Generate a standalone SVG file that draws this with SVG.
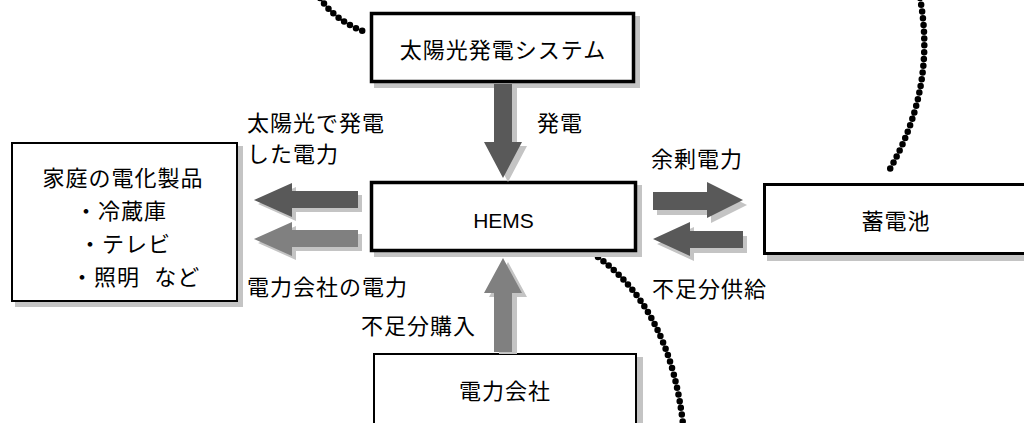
<svg xmlns="http://www.w3.org/2000/svg" width="1024" height="423" viewBox="0 0 1024 423">
  <style>
    .box { fill: #ffffff; stroke: #000000; }
    .shadow { fill: #c4c4c4; stroke: none; }
    .ashadow { fill: #c4c4c4; stroke: none; }
    .dark { fill: #595959; }
    .mid { fill: #808080; }
    .dots { fill: none; stroke: #000000; stroke-width: 6.5; stroke-linecap: round; stroke-dasharray: 0 6.8; }
    .t { font-family: "Liberation Sans", "Noto Sans CJK JP", sans-serif; font-size: 22px; letter-spacing: 1px; fill: #000000; }
    .en { font-family: "Liberation Sans", Arial, sans-serif; font-size: 21px; fill: #000000; }
    .c { text-anchor: middle; }
  </style>

  <g id="decor">
    <path class="dots" d="M 320 -2 Q 336 22 368 33"/>
    <path class="dots" d="M 920 -2 Q 937 90 887 174"/>
    <path class="dots" d="M 598 257 Q 670 310 683 424"/>
  </g>

  <g id="node-solar">
    <rect class="shadow" x="374" y="16" width="266" height="72"/>
    <rect class="box" x="371.5" y="13.5" width="262" height="68" stroke-width="3.5"/>
    <text class="t c" x="503" y="58">太陽光発電システム</text>
  </g>

  <g id="node-hems">
    <rect class="shadow" x="374" y="185" width="268" height="72"/>
    <rect class="box" x="371.5" y="182.5" width="264" height="68" stroke-width="3.5"/>
    <text class="en c" x="503.5" y="228">HEMS</text>
  </g>

  <g id="node-home">
    <rect class="shadow" x="15" y="146" width="228" height="161"/>
    <rect class="box" x="12" y="143" width="225" height="158" stroke-width="2"/>
    <text class="t c" x="123" y="186">家庭の電化製品</text>
    <text class="t" x="75" y="219">・冷蔵庫</text>
    <text class="t" x="79" y="252">・テレビ</text>
    <text class="t" x="71" y="285" xml:space="preserve">・照明  など</text>
  </g>

  <g id="node-battery">
    <rect class="shadow" x="767" y="188" width="280" height="73"/>
    <rect class="box" x="764.5" y="184.5" width="280" height="69" stroke-width="3"/>
    <text class="t c" x="896" y="229">蓄電池</text>
  </g>

  <g id="node-company">
    <rect class="shadow" x="377" y="357" width="266" height="80"/>
    <rect class="box" x="374" y="354" width="262" height="80" stroke-width="2"/>
    <text class="t c" x="505" y="399">電力会社</text>
  </g>

  <g id="connectors">
    <!-- solar -> HEMS -->
    <g transform="translate(5,4)"><polygon class="ashadow" points="494,84 512,84 512,142 522,142 503,178 484,142 494,142"/></g>
    <polygon class="dark" points="494,84 512,84 512,142 522,142 503,178 484,142 494,142"/>
    <text class="t" x="537" y="131">発電</text>

    <!-- HEMS -> home (solar power) -->
    <g transform="translate(4,4)"><polygon class="ashadow" points="358,191 292,191 292,183 254,200 292,217 292,208 358,208"/></g>
    <polygon class="dark" points="358,191 292,191 292,183 254,200 292,217 292,208 358,208"/>
    <text class="t" x="247" y="131">太陽光で発電</text>
    <text class="t" x="247" y="162">した電力</text>

    <!-- HEMS -> home (company power) -->
    <g transform="translate(4,4)"><polygon class="ashadow" points="358,230 292,230 292,222 254,239 292,256 292,247 358,247"/></g>
    <polygon class="mid" points="358,230 292,230 292,222 254,239 292,256 292,247 358,247"/>
    <text class="t" x="247" y="295">電力会社の電力</text>

    <!-- HEMS -> battery -->
    <g transform="translate(4,5)"><polygon class="ashadow" points="653,192 707,192 707,182 743,200 707,218 707,210 653,210"/></g>
    <polygon class="dark" points="653,192 707,192 707,182 743,200 707,218 707,210 653,210"/>
    <text class="t" x="651" y="167">余剰電力</text>

    <!-- battery -> HEMS -->
    <g transform="translate(4,5)"><polygon class="ashadow" points="743,231 690,231 690,222 653,239 690,256 690,248 743,248"/></g>
    <polygon class="dark" points="743,231 690,231 690,222 653,239 690,256 690,248 743,248"/>
    <text class="t" x="652" y="297">不足分供給</text>

    <!-- company -> HEMS -->
    <g transform="translate(5,4)"><polygon class="ashadow" points="503,258 522,293 512,293 512,350 494,350 494,293 484,293"/></g>
    <polygon class="mid" points="503,258 522,293 512,293 512,352 494,352 494,293 484,293"/>
    <text class="t" x="361" y="334">不足分購入</text>
  </g>
</svg>
